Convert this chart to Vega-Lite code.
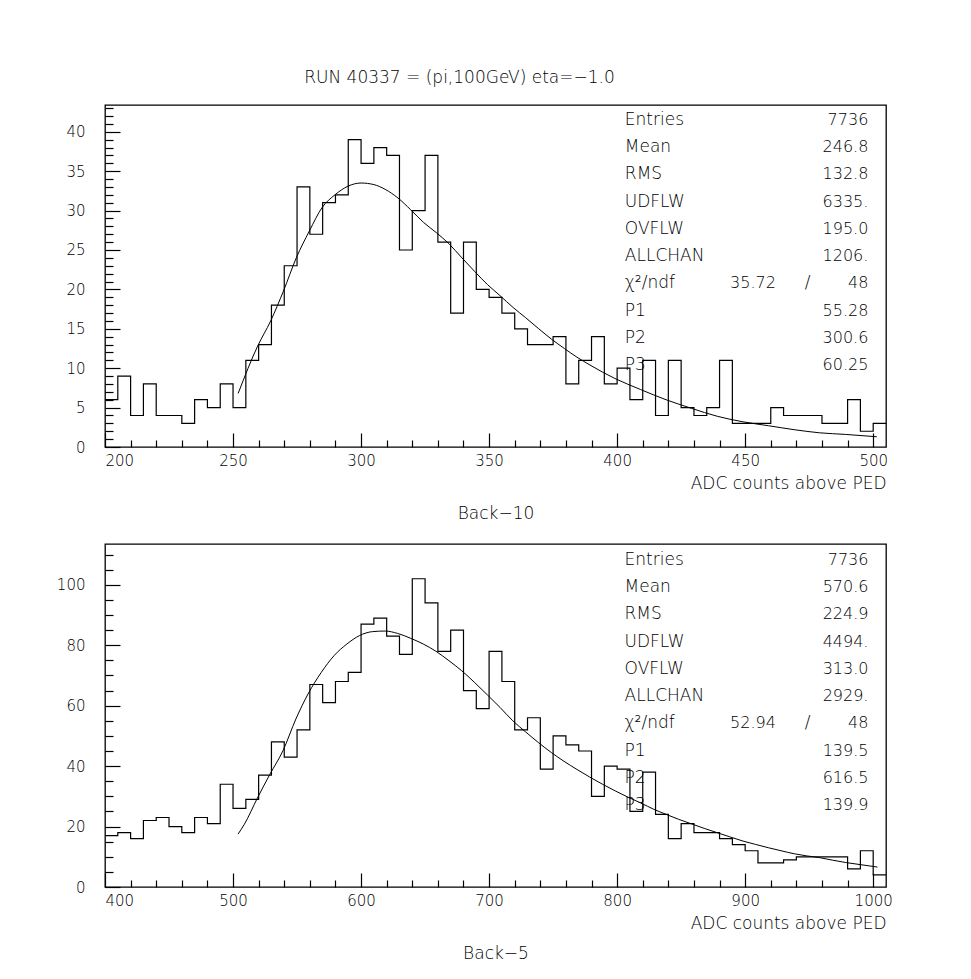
{
  "$schema": "https://vega.github.io/schema/vega-lite/v6.json",
  "background": "white",
  "padding": {"left": 55, "top": 68, "right": 5, "bottom": 5},
  "spacing": 97,
  "bounds": "flush",
  "config": {
    "view": {"stroke": "black", "strokeWidth": 1.3},
    "font": "DejaVu Sans",
    "axis": {"labelFont": "DejaVu Sans", "labelFontSize": 15, "labelFontWeight": 200, "labelColor": "black", "titleFont": "DejaVu Sans", "titleFontSize": 17, "titleFontWeight": 200, "titleColor": "black", "tickColor": "black", "tickWidth": 1.2, "grid": false, "domain": false, "format": "d"},
    "text": {"font": "DejaVu Sans", "fontSize": 17, "fontWeight": 200, "color": "black"}
  },
  "datasets": {
    "h1": [
      {"lo":200,"hi":205,"n":6},{"lo":205,"hi":210,"n":9},{"lo":210,"hi":215,"n":4},{"lo":215,"hi":220,"n":8},{"lo":220,"hi":225,"n":4},
      {"lo":225,"hi":230,"n":4},{"lo":230,"hi":235,"n":3},{"lo":235,"hi":240,"n":6},{"lo":240,"hi":245,"n":5},{"lo":245,"hi":250,"n":8},
      {"lo":250,"hi":255,"n":5},{"lo":255,"hi":260,"n":11},{"lo":260,"hi":265,"n":13},{"lo":265,"hi":270,"n":18},{"lo":270,"hi":275,"n":23},
      {"lo":275,"hi":280,"n":33},{"lo":280,"hi":285,"n":27},{"lo":285,"hi":290,"n":31},{"lo":290,"hi":295,"n":32},{"lo":295,"hi":300,"n":39},
      {"lo":300,"hi":305,"n":36},{"lo":305,"hi":310,"n":38},{"lo":310,"hi":315,"n":37},{"lo":315,"hi":320,"n":25},{"lo":320,"hi":325,"n":30},
      {"lo":325,"hi":330,"n":37},{"lo":330,"hi":335,"n":26},{"lo":335,"hi":340,"n":17},{"lo":340,"hi":345,"n":26},{"lo":345,"hi":350,"n":20},
      {"lo":350,"hi":355,"n":19},{"lo":355,"hi":360,"n":17},{"lo":360,"hi":365,"n":15},{"lo":365,"hi":370,"n":13},{"lo":370,"hi":375,"n":13},
      {"lo":375,"hi":380,"n":14},{"lo":380,"hi":385,"n":8},{"lo":385,"hi":390,"n":11},{"lo":390,"hi":395,"n":14},{"lo":395,"hi":400,"n":8},
      {"lo":400,"hi":405,"n":10},{"lo":405,"hi":410,"n":6},{"lo":410,"hi":415,"n":11},{"lo":415,"hi":420,"n":4},{"lo":420,"hi":425,"n":11},
      {"lo":425,"hi":430,"n":5},{"lo":430,"hi":435,"n":4},{"lo":435,"hi":440,"n":5},{"lo":440,"hi":445,"n":11},{"lo":445,"hi":450,"n":3},
      {"lo":450,"hi":455,"n":3},{"lo":455,"hi":460,"n":3},{"lo":460,"hi":465,"n":5},{"lo":465,"hi":470,"n":4},{"lo":470,"hi":475,"n":4},
      {"lo":475,"hi":480,"n":4},{"lo":480,"hi":485,"n":3},{"lo":485,"hi":490,"n":3},{"lo":490,"hi":495,"n":6},{"lo":495,"hi":500,"n":2},
      {"lo":500,"hi":505,"n":3}
    ],
    "f1": [
      {"x":252,"y":6.8},{"x":259.6,"y":12.8},{"x":264.7,"y":16.0},{"x":269.7,"y":19.8},{"x":274.7,"y":24.0},{"x":279.8,"y":27.4},
      {"x":284.8,"y":30.4},{"x":289.8,"y":32.0},{"x":294.9,"y":33.1},{"x":300,"y":33.5},{"x":305,"y":33.3},{"x":309.4,"y":32.7},{"x":314.4,"y":31.6},
      {"x":319.4,"y":30.1},{"x":324.4,"y":28.5},{"x":329.4,"y":27.2},{"x":334.3,"y":25.8},{"x":339.4,"y":24.0},{"x":344.3,"y":22.3},
      {"x":349.4,"y":20.6},{"x":354.3,"y":19.2},{"x":359.4,"y":17.7},{"x":364.3,"y":16.4},{"x":369.4,"y":15.0},{"x":374.3,"y":13.7},
      {"x":379.4,"y":12.5},{"x":384.3,"y":11.4},{"x":389.4,"y":10.4},{"x":394.3,"y":9.5},{"x":399.1,"y":8.7},{"x":409.1,"y":7.3},
      {"x":419.1,"y":6.0},{"x":429.1,"y":4.9},{"x":439.1,"y":3.9},{"x":449.1,"y":3.2},{"x":459.1,"y":2.7},{"x":469.1,"y":2.2},
      {"x":479.1,"y":1.8},{"x":489.1,"y":1.6},{"x":501.4,"y":1.3}
    ],
    "s1": [
      {"row":0,"label":"Entries","val":"7736"},
      {"row":1,"label":"Mean","val":"246.8"},
      {"row":2,"label":"RMS","val":"132.8"},
      {"row":3,"label":"UDFLW","val":"6335."},
      {"row":4,"label":"OVFLW","val":"195.0"},
      {"row":5,"label":"ALLCHAN","val":"1206."},
      {"row":6,"label":"χ²/ndf","mid":"35.72","slash":"/","val":"48"},
      {"row":7,"label":"P1","val":"55.28"},
      {"row":8,"label":"P2","val":"300.6"},
      {"row":9,"label":"P3","val":"60.25"}
    ],
    "h2": [
      {"lo":400,"hi":410,"n":17},{"lo":410,"hi":420,"n":18},{"lo":420,"hi":430,"n":16},{"lo":430,"hi":440,"n":22},{"lo":440,"hi":450,"n":23},
      {"lo":450,"hi":460,"n":20},{"lo":460,"hi":470,"n":18},{"lo":470,"hi":480,"n":23},{"lo":480,"hi":490,"n":21},{"lo":490,"hi":500,"n":34},
      {"lo":500,"hi":510,"n":26},{"lo":510,"hi":520,"n":29},{"lo":520,"hi":530,"n":37},{"lo":530,"hi":540,"n":48},{"lo":540,"hi":550,"n":43},
      {"lo":550,"hi":560,"n":52},{"lo":560,"hi":570,"n":67},{"lo":570,"hi":580,"n":61},{"lo":580,"hi":590,"n":68},{"lo":590,"hi":600,"n":71},
      {"lo":600,"hi":610,"n":87},{"lo":610,"hi":620,"n":89},{"lo":620,"hi":630,"n":83},{"lo":630,"hi":640,"n":77},{"lo":640,"hi":650,"n":102},
      {"lo":650,"hi":660,"n":94},{"lo":660,"hi":670,"n":78},{"lo":670,"hi":680,"n":85},{"lo":680,"hi":690,"n":65},{"lo":690,"hi":700,"n":59},
      {"lo":700,"hi":710,"n":78},{"lo":710,"hi":720,"n":68},{"lo":720,"hi":730,"n":52},{"lo":730,"hi":740,"n":56},{"lo":740,"hi":750,"n":39},
      {"lo":750,"hi":760,"n":50},{"lo":760,"hi":770,"n":47},{"lo":770,"hi":780,"n":45},{"lo":780,"hi":790,"n":30},{"lo":790,"hi":800,"n":40},
      {"lo":800,"hi":810,"n":39},{"lo":810,"hi":820,"n":25},{"lo":820,"hi":830,"n":38},{"lo":830,"hi":840,"n":24},{"lo":840,"hi":850,"n":16},
      {"lo":850,"hi":860,"n":21},{"lo":860,"hi":870,"n":18},{"lo":870,"hi":880,"n":18},{"lo":880,"hi":890,"n":16},{"lo":890,"hi":900,"n":14},
      {"lo":900,"hi":910,"n":12},{"lo":910,"hi":920,"n":8},{"lo":920,"hi":930,"n":8},{"lo":930,"hi":940,"n":9},{"lo":940,"hi":950,"n":10},
      {"lo":950,"hi":960,"n":10},{"lo":960,"hi":970,"n":10},{"lo":970,"hi":980,"n":10},{"lo":980,"hi":990,"n":6},{"lo":990,"hi":1000,"n":12},
      {"lo":1000,"hi":1010,"n":4}
    ],
    "f2": [
      {"x":503.9,"y":17.5},{"x":508.9,"y":20.8},{"x":519,"y":29.4},{"x":528.8,"y":37.3},{"x":539,"y":45.1},{"x":549.1,"y":55.6},
      {"x":559,"y":64.2},{"x":568.9,"y":71.0},{"x":579,"y":76.6},{"x":588.9,"y":80.4},{"x":598.8,"y":83.2},{"x":608.9,"y":84.5},
      {"x":618.8,"y":84.7},{"x":628.6,"y":83.9},{"x":638.7,"y":82.3},{"x":648.6,"y":80.4},{"x":658.5,"y":78.0},{"x":668.6,"y":74.9},
      {"x":678.5,"y":71.6},{"x":688.6,"y":67.7},{"x":698.6,"y":63.6},{"x":708.6,"y":59.4},{"x":718.5,"y":55.0},{"x":728.6,"y":51.3},
      {"x":738.5,"y":47.8},{"x":748.6,"y":44.5},{"x":758.5,"y":41.6},{"x":768.6,"y":38.9},{"x":778.5,"y":36.4},{"x":788.6,"y":34.0},
      {"x":798.5,"y":31.8},{"x":808.6,"y":29.7},{"x":818.5,"y":27.8},{"x":828.7,"y":25.7},{"x":838.5,"y":24.0},{"x":848,"y":22.4},
      {"x":858,"y":20.9},{"x":868,"y":19.4},{"x":878,"y":18.0},{"x":888,"y":16.6},{"x":898.3,"y":15.2},{"x":908,"y":14.1},
      {"x":918.1,"y":13.0},{"x":928,"y":12.0},{"x":938.3,"y":11.0},{"x":948,"y":10.3},{"x":958.3,"y":9.7},{"x":968,"y":8.9},
      {"x":978.6,"y":8.1},{"x":990,"y":7.4},{"x":1003.3,"y":6.6}
    ],
    "s2": [
      {"row":0,"label":"Entries","val":"7736"},
      {"row":1,"label":"Mean","val":"570.6"},
      {"row":2,"label":"RMS","val":"224.9"},
      {"row":3,"label":"UDFLW","val":"4494."},
      {"row":4,"label":"OVFLW","val":"313.0"},
      {"row":5,"label":"ALLCHAN","val":"2929."},
      {"row":6,"label":"χ²/ndf","mid":"52.94","slash":"/","val":"48"},
      {"row":7,"label":"P1","val":"139.5"},
      {"row":8,"label":"P2","val":"616.5"},
      {"row":9,"label":"P3","val":"139.9"}
    ]
  },
  "vconcat": [
    {
      "width": 781,
      "height": 342,
      "title": {"text": "RUN 40337 = (pi,100GeV) eta=\u22121.0", "anchor": "middle", "dx": -36, "offset": 18, "fontSize": 17, "fontWeight": 200, "font": "DejaVu Sans", "color": "black"},
      "resolve": {"scale": {"x": "independent", "y": "independent"}, "axis": {"x": "independent", "y": "independent"}},
      "layer": [
        {
          "data": {"name": "h1"},
          "transform": [{"fold": ["lo", "hi"], "as": ["edge", "xv"]}],
          "mark": {"type": "line", "color": "black", "strokeWidth": 1.2, "clip": true},
          "encoding": {
            "x": {"field": "xv", "type": "quantitative", "scale": {"domain": [200, 505], "nice": false, "zero": false},
                  "axis": {"orient": "bottom", "values": [200, 250, 300, 350, 400, 450, 500], "tickSize": -14, "labelPadding": 20, "title": "ADC counts above PED", "titleAnchor": "end", "titlePadding": 7}},
            "y": {"field": "n", "type": "quantitative", "scale": {"domain": [0, 43.4], "nice": false},
                  "axis": {"orient": "left", "values": [0, 5, 10, 15, 20, 25, 30, 35, 40], "tickSize": -15, "labelPadding": 35, "title": null}},
            "order": [{"field": "xv", "type": "quantitative"}, {"field": "edge", "type": "nominal"}]
          }
        },
        {
          "data": {"name": "f1"},
          "mark": {"type": "line", "color": "black", "strokeWidth": 1, "interpolate": "monotone"},
          "encoding": {
            "x": {"field": "x", "type": "quantitative", "scale": {"domain": [200, 505], "nice": false, "zero": false},
                  "axis": {"orient": "bottom", "values": [210, 220, 230, 240, 260, 270, 280, 290, 310, 320, 330, 340, 360, 370, 380, 390, 410, 420, 430, 440, 460, 470, 480, 490], "tickSize": -7, "labels": false, "title": "Back\u221210", "titleAnchor": "middle", "titlePadding": 58}},
            "y": {"field": "y", "type": "quantitative", "scale": {"domain": [0, 43.4], "nice": false},
                  "axis": {"orient": "left", "values": [1,2,3,4,6,7,8,9,11,12,13,14,16,17,18,19,21,22,23,24,26,27,28,29,31,32,33,34,36,37,38,39,41,42,43], "tickSize": -8, "labels": false, "title": null}}
          }
        },
        {
          "mark": {"type": "rect", "fill": null, "stroke": "black", "strokeWidth": 1.3},
          "encoding": {
            "x": {"datum": 397.5, "type": "quantitative", "scale": {"domain": [200, 505], "nice": false, "zero": false}, "axis": null},
            "x2": {"datum": 505},
            "y": {"datum": 8.7, "type": "quantitative", "scale": {"domain": [0, 43.4], "nice": false}, "axis": null},
            "y2": {"datum": 43.4}
          }
        },
        {
          "mark": {"type": "rule", "color": "black", "strokeWidth": 1.3},
          "encoding": {
            "x": {"datum": 397.5, "type": "quantitative", "scale": {"domain": [200, 505], "nice": false, "zero": false}, "axis": null},
            "x2": {"datum": 505},
            "y": {"datum": 22.55, "type": "quantitative", "scale": {"domain": [0, 43.4], "nice": false}, "axis": null}
          }
        },
        {
          "data": {"name": "s1"},
          "mark": {"type": "text", "align": "left", "baseline": "middle"},
          "encoding": {
            "x": {"datum": 403, "type": "quantitative", "scale": {"domain": [200, 505], "nice": false, "zero": false}, "axis": null},
            "y": {"field": "row", "type": "quantitative", "scale": {"domain": [-0.55, 12.0], "reverse": true, "nice": false, "zero": false}, "axis": null},
            "text": {"field": "label"}
          }
        },
        {
          "data": {"name": "s1"},
          "mark": {"type": "text", "align": "right", "baseline": "middle", "fontSize": 16},
          "encoding": {
            "x": {"datum": 498.1, "type": "quantitative", "scale": {"domain": [200, 505], "nice": false, "zero": false}, "axis": null},
            "y": {"field": "row", "type": "quantitative", "scale": {"domain": [-0.55, 12.0], "reverse": true, "nice": false, "zero": false}, "axis": null},
            "text": {"field": "val"}
          }
        },
        {
          "data": {"name": "s1"},
          "transform": [{"filter": "datum.mid != null"}],
          "mark": {"type": "text", "align": "right", "baseline": "middle", "fontSize": 16},
          "encoding": {
            "x": {"datum": 462, "type": "quantitative", "scale": {"domain": [200, 505], "nice": false, "zero": false}, "axis": null},
            "y": {"field": "row", "type": "quantitative", "scale": {"domain": [-0.55, 12.0], "reverse": true, "nice": false, "zero": false}, "axis": null},
            "text": {"field": "mid"}
          }
        },
        {
          "data": {"name": "s1"},
          "transform": [{"filter": "datum.slash != null"}],
          "mark": {"type": "text", "align": "center", "baseline": "middle"},
          "encoding": {
            "x": {"datum": 474.4, "type": "quantitative", "scale": {"domain": [200, 505], "nice": false, "zero": false}, "axis": null},
            "y": {"field": "row", "type": "quantitative", "scale": {"domain": [-0.55, 12.0], "reverse": true, "nice": false, "zero": false}, "axis": null},
            "text": {"field": "slash"}
          }
        }
      ]
    },
    {
      "width": 781,
      "height": 343,
      "resolve": {"scale": {"x": "independent", "y": "independent"}, "axis": {"x": "independent", "y": "independent"}},
      "layer": [
        {
          "data": {"name": "h2"},
          "transform": [{"fold": ["lo", "hi"], "as": ["edge", "xv"]}],
          "mark": {"type": "line", "color": "black", "strokeWidth": 1.2, "clip": true},
          "encoding": {
            "x": {"field": "xv", "type": "quantitative", "scale": {"domain": [400, 1010], "nice": false, "zero": false},
                  "axis": {"orient": "bottom", "values": [400, 500, 600, 700, 800, 900, 1000], "tickSize": -14, "labelPadding": 20, "title": "ADC counts above PED", "titleAnchor": "end", "titlePadding": 7}},
            "y": {"field": "n", "type": "quantitative", "scale": {"domain": [0, 113.5], "nice": false},
                  "axis": {"orient": "left", "values": [0, 20, 40, 60, 80, 100], "tickSize": -15, "labelPadding": 35, "title": null}},
            "order": [{"field": "xv", "type": "quantitative"}, {"field": "edge", "type": "nominal"}]
          }
        },
        {
          "data": {"name": "f2"},
          "mark": {"type": "line", "color": "black", "strokeWidth": 1, "interpolate": "monotone"},
          "encoding": {
            "x": {"field": "x", "type": "quantitative", "scale": {"domain": [400, 1010], "nice": false, "zero": false},
                  "axis": {"orient": "bottom", "values": [420, 440, 460, 480, 520, 540, 560, 580, 620, 640, 660, 680, 720, 740, 760, 780, 820, 840, 860, 880, 920, 940, 960, 980], "tickSize": -7, "labels": false, "title": "Back\u22125", "titleAnchor": "middle", "titlePadding": 58}},
            "y": {"field": "y", "type": "quantitative", "scale": {"domain": [0, 113.5], "nice": false},
                  "axis": {"orient": "left", "values": [5, 10, 15, 25, 30, 35, 45, 50, 55, 65, 70, 75, 85, 90, 95, 105, 110], "tickSize": -8, "labels": false, "title": null}}
          }
        },
        {
          "mark": {"type": "rect", "fill": null, "stroke": "black", "strokeWidth": 1.3},
          "encoding": {
            "x": {"datum": 795, "type": "quantitative", "scale": {"domain": [400, 1010], "nice": false, "zero": false}, "axis": null},
            "x2": {"datum": 1010},
            "y": {"datum": 23.0, "type": "quantitative", "scale": {"domain": [0, 113.5], "nice": false}, "axis": null},
            "y2": {"datum": 113.5}
          }
        },
        {
          "mark": {"type": "rule", "color": "black", "strokeWidth": 1.3},
          "encoding": {
            "x": {"datum": 795, "type": "quantitative", "scale": {"domain": [400, 1010], "nice": false, "zero": false}, "axis": null},
            "x2": {"datum": 1010},
            "y": {"datum": 58.9, "type": "quantitative", "scale": {"domain": [0, 113.5], "nice": false}, "axis": null}
          }
        },
        {
          "data": {"name": "s2"},
          "mark": {"type": "text", "align": "left", "baseline": "middle"},
          "encoding": {
            "x": {"datum": 805.8, "type": "quantitative", "scale": {"domain": [400, 1010], "nice": false, "zero": false}, "axis": null},
            "y": {"field": "row", "type": "quantitative", "scale": {"domain": [-0.58, 12.0], "reverse": true, "nice": false, "zero": false}, "axis": null},
            "text": {"field": "label"}
          }
        },
        {
          "data": {"name": "s2"},
          "mark": {"type": "text", "align": "right", "baseline": "middle", "fontSize": 16},
          "encoding": {
            "x": {"datum": 996.3, "type": "quantitative", "scale": {"domain": [400, 1010], "nice": false, "zero": false}, "axis": null},
            "y": {"field": "row", "type": "quantitative", "scale": {"domain": [-0.58, 12.0], "reverse": true, "nice": false, "zero": false}, "axis": null},
            "text": {"field": "val"}
          }
        },
        {
          "data": {"name": "s2"},
          "transform": [{"filter": "datum.mid != null"}],
          "mark": {"type": "text", "align": "right", "baseline": "middle", "fontSize": 16},
          "encoding": {
            "x": {"datum": 924, "type": "quantitative", "scale": {"domain": [400, 1010], "nice": false, "zero": false}, "axis": null},
            "y": {"field": "row", "type": "quantitative", "scale": {"domain": [-0.58, 12.0], "reverse": true, "nice": false, "zero": false}, "axis": null},
            "text": {"field": "mid"}
          }
        },
        {
          "data": {"name": "s2"},
          "transform": [{"filter": "datum.slash != null"}],
          "mark": {"type": "text", "align": "center", "baseline": "middle"},
          "encoding": {
            "x": {"datum": 948.7, "type": "quantitative", "scale": {"domain": [400, 1010], "nice": false, "zero": false}, "axis": null},
            "y": {"field": "row", "type": "quantitative", "scale": {"domain": [-0.58, 12.0], "reverse": true, "nice": false, "zero": false}, "axis": null},
            "text": {"field": "slash"}
          }
        }
      ]
    }
  ]
}
